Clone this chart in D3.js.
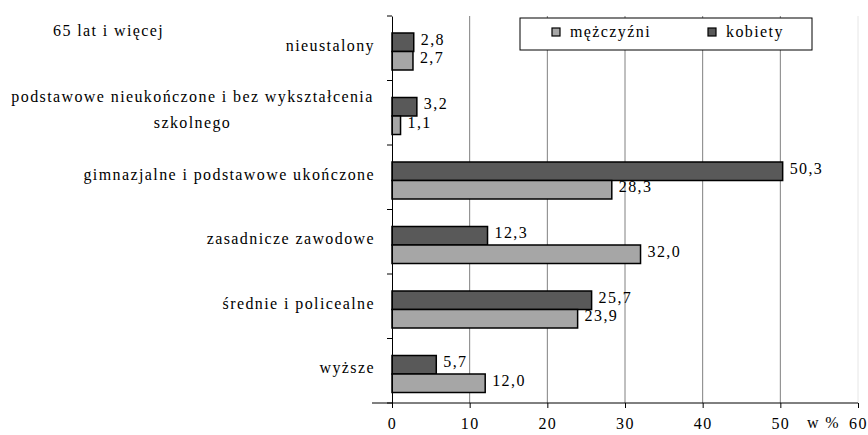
<!DOCTYPE html>
<html>
<head>
<meta charset="utf-8">
<script src="https://cdn.jsdelivr.net/npm/d3@7"></script>
<style>
  text { font-family: "Liberation Serif" !important; }
</style>
</head>
<body style="margin:0">
<script>
// Data
const categories = [
    'nieustalony',
    'podstawowe nieukończone i bez wykształcenia|szkolnego',
    'gimnazjalne i podstawowe ukończone',
    'zasadnicze zawodowe',
    'średnie i policealne',
    'wyższe'
];
const seriesNames = ['kobiety', 'mężczyźni'];
const kobiety = [2.8, 3.2, 50.3, 12.3, 25.7, 5.7];
const mezczyzni = [2.7, 1.1, 28.3, 32.0, 23.9, 12.0];
const xTicks = [0, 10, 20, 30, 40, 50, 60];
const title = '65 lat i więcej';
const unitLabel = 'w %';

const dims = {
    width: 868,
    height: 435,
    left: 392,
    right: 858,
    top: 16,
    bottom: 403
};

const colors = { 'kobiety': '#595959', 'mężczyźni': '#a6a6a6' };

// Shared text style
const textStyle = sel => sel
    .style('font-family', '"Liberation Serif"')
    .style('font-size', '16px')
    .style('letter-spacing', '1.4px')
    .style('fill', '#000');

const svg = d3.select('body')
    .append('svg')
    .attr('width', dims.width)
    .attr('height', dims.height)
    .attr('font-family', 'Liberation Serif');

// Scales
const xScale = d3.scaleLinear()
    .domain([0, 60])
    .range([dims.left, dims.right]);

const yScale = d3.scaleBand()
    .domain(categories)
    .range([dims.top, dims.bottom]);

const subScale = d3.scaleBand()
    .domain(seriesNames)
    .range([17, 17 + 37]);

// Gridlines
svg.append('g')
    .selectAll('line')
    .data(xTicks.filter(d => d > 0))
    .enter()
    .append('line')
        .attr('x1', d => xScale(d))
        .attr('x2', d => xScale(d))
        .attr('y1', dims.top)
        .attr('y2', dims.bottom)
        .attr('stroke', d => d === 60 ? '#e6e6e6' : '#808080')
        .attr('stroke-width', 1);

// Bars
const fmt = v => d3.format('.1f')(v).replace('.', ',');
const rows = categories.map((c, i) => ({ cat: c, values: [
    { key: 'kobiety', value: kobiety[i] },
    { key: 'mężczyźni', value: mezczyzni[i] }
]}));

const groups = svg.append('g')
    .selectAll('g')
    .data(rows)
    .enter()
    .append('g')
        .attr('transform', d => `translate(0, ${yScale(d.cat)})`);

groups.selectAll('rect')
    .data(d => d.values)
    .enter()
    .append('rect')
        .attr('x', xScale(0))
        .attr('y', d => subScale(d.key))
        .attr('width', d => xScale(d.value) - xScale(0))
        .attr('height', subScale.bandwidth())
        .attr('fill', d => colors[d.key])
        .attr('stroke', '#000')
        .attr('stroke-width', 1.5);

groups.selectAll('text.val')
    .data(d => d.values)
    .enter()
    .append('text')
        .attr('class', 'val')
        .attr('x', d => xScale(d.value) + 7)
        .attr('y', d => subScale(d.key) + subScale.bandwidth() / 2 - 3)
        .attr('dy', '0.35em')
        .call(textStyle)
        .text(d => fmt(d.value));

// Y axis line and band ticks
svg.append('g')
    .attr('transform', `translate(${dims.left}, 0)`)
    .call(d3.axisLeft(yScale).tickSize(0).tickFormat(''))
    .call(g => g.select('.domain').attr('stroke', '#000'));

svg.append('g')
    .selectAll('line')
    .data(d3.range(categories.length + 1))
    .enter()
    .append('line')
        .attr('x1', dims.left - 5)
        .attr('x2', dims.left)
        .attr('y1', i => dims.top + i * yScale.step())
        .attr('y2', i => dims.top + i * yScale.step())
        .attr('stroke', '#000');

// Category labels (right edge fixed, extra lines centred under the first)
const labelRight = 375;
const labelWidth = 365;
categories.forEach(c => {
    const lines = c.split('|');
    const cy = yScale(c) + yScale.bandwidth() / 2 - 3;
    const lh = 26;
    const t = svg.append('text').call(textStyle);
    lines.forEach((ln, j) => {
        t.append('tspan')
            .attr('y', cy + (j - (lines.length - 1) / 2) * lh)
            .attr('dy', '0.35em')
            .text(ln);
    });
    if (lines.length > 1) {
        t.attr('text-anchor', 'middle');
        t.selectAll('tspan').attr('x', labelRight - labelWidth / 2);
    } else {
        t.attr('text-anchor', 'end');
        t.selectAll('tspan').attr('x', labelRight);
    }
});

// X axis
const xg = svg.append('g')
    .attr('transform', `translate(0, ${dims.bottom})`)
    .call(d3.axisBottom(xScale)
        .tickValues(xTicks)
        .tickSize(5)
        .tickPadding(10)
        .tickFormat(d => d))
    .attr('font-family', 'Liberation Serif');
xg.select('.domain').attr('d', `M${dims.left - 20},0H${dims.right}`).attr('stroke', '#000');
xg.selectAll('.tick line').attr('stroke', '#000');
xg.selectAll('.tick text').call(textStyle);

svg.append('text')
    .attr('x', 840)
    .attr('y', dims.bottom + 25)
    .attr('text-anchor', 'end')
    .call(textStyle)
    .text(unitLabel);

// Title
svg.append('text')
    .attr('x', 53)
    .attr('y', 30)
    .attr('dy', '0.35em')
    .call(textStyle)
    .text(title);

// Legend
const legend = svg.append('g').attr('transform', 'translate(520, 18)');
legend.append('rect')
    .attr('width', 292)
    .attr('height', 32)
    .attr('fill', '#fff')
    .attr('stroke', '#000');
const legendItems = [
    { key: 'mężczyźni', x: 32 },
    { key: 'kobiety', x: 188 }
];
legendItems.forEach(item => {
    legend.append('rect')
        .attr('x', item.x)
        .attr('y', 10)
        .attr('width', 8)
        .attr('height', 8)
        .attr('fill', colors[item.key])
        .attr('stroke', '#000')
        .attr('stroke-width', 1.2);
    legend.append('text')
        .attr('x', item.x + 18)
        .attr('y', 13)
        .attr('dy', '0.35em')
        .call(textStyle)
        .text(item.key);
});
</script>
</body>
</html>
